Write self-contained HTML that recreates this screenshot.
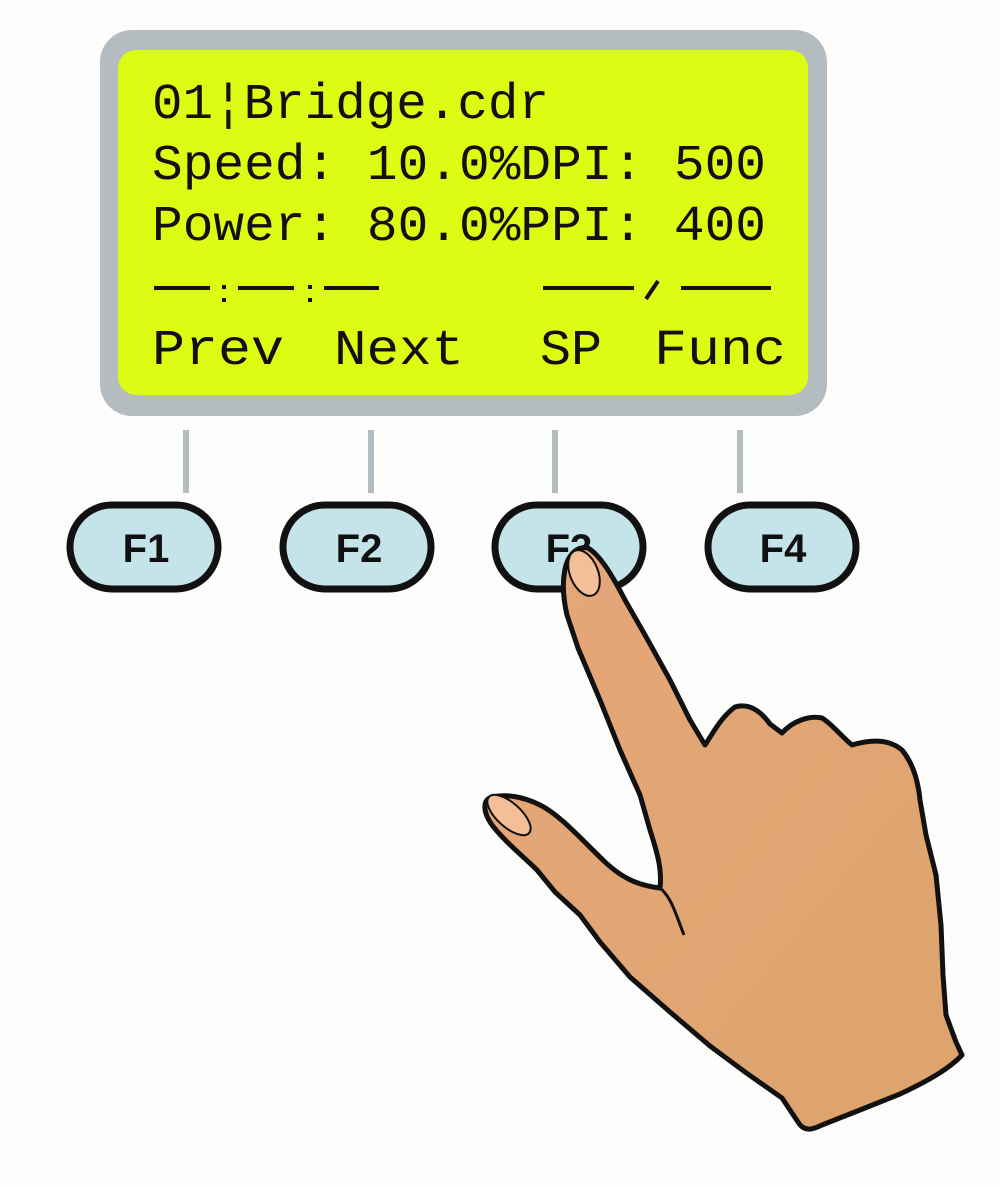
<!DOCTYPE html>
<html><head><meta charset="utf-8"><style>
html,body{margin:0;padding:0;background:#fdfdfb;}
svg{display:block}
.t{font-family:"Liberation Mono",monospace;font-size:50px;fill:#111;}
.b{font-family:"Liberation Sans",sans-serif;font-weight:bold;font-size:40px;fill:#111;text-anchor:middle;}
</style></head><body>
<svg width="1000" height="1185" viewBox="0 0 1000 1185" xmlns="http://www.w3.org/2000/svg">
<rect x="0" y="0" width="1000" height="1185" fill="#fdfdfb"/>
<rect x="100" y="30" width="727" height="386" rx="32" fill="#b5bcbf"/>
<rect x="118" y="50" width="690" height="345" rx="18" fill="#dcfc14"/>
<text class="t" x="152" y="118" textLength="397" lengthAdjust="spacingAndGlyphs">01¦Bridge.cdr</text>
<text class="t" x="152" y="179" textLength="614" lengthAdjust="spacingAndGlyphs">Speed: 10.0%DPI: 500</text>
<text class="t" x="152" y="240" textLength="614" lengthAdjust="spacingAndGlyphs">Power: 80.0%PPI: 400</text>
<g stroke="#111" stroke-width="4">
<line x1="154" y1="288" x2="210" y2="288"/><line x1="238" y1="288" x2="294" y2="288"/><line x1="324" y1="288" x2="379" y2="288"/>
<line x1="543" y1="288" x2="634" y2="288"/><line x1="681" y1="288" x2="771" y2="288"/>
<line x1="646" y1="299" x2="658" y2="281"/>
</g>
<rect x="222" y="285" width="4" height="4" fill="#111"/><rect x="222" y="298" width="4" height="4" fill="#111"/>
<rect x="308" y="285" width="4" height="4" fill="#111"/><rect x="308" y="298" width="4" height="4" fill="#111"/>
<text class="t" x="152" y="364" textLength="132" lengthAdjust="spacingAndGlyphs">Prev</text>
<text class="t" x="334" y="364" textLength="130" lengthAdjust="spacingAndGlyphs">Next</text>
<text class="t" x="540" y="364" textLength="62" lengthAdjust="spacingAndGlyphs">SP</text>
<text class="t" x="654" y="364" textLength="132" lengthAdjust="spacingAndGlyphs">Func</text>
<g stroke="#b5bcbf" stroke-width="6">
<line x1="186" y1="430" x2="186" y2="493"/><line x1="371" y1="430" x2="371" y2="493"/>
<line x1="555" y1="430" x2="555" y2="493"/><line x1="740" y1="430" x2="740" y2="493"/>
</g>
<g fill="#c5e4ea" stroke="#111" stroke-width="7">
<rect x="70" y="505" width="148" height="84" rx="42"/>
<rect x="283" y="505" width="148" height="84" rx="42"/>
<rect x="495" y="505" width="148" height="84" rx="42"/>
<rect x="708" y="505" width="148" height="84" rx="42"/>
</g>
<text class="b" x="146" y="562">F1</text>
<text class="b" x="359" y="562">F2</text>
<text class="b" x="569" y="562">F3</text>
<text class="b" x="783" y="562">F4</text>
<defs><linearGradient id="sk" x1="0" y1="0" x2="1" y2="1"><stop offset="0" stop-color="#e6a77a"/><stop offset="1" stop-color="#dca46c"/></linearGradient></defs>
<path fill="url(#sk)" stroke="#111" stroke-width="5" stroke-linejoin="round" d="
M588,548 C600,555 612,575 625,600 L645,635 L670,680 L690,720 L705,745
C712,735 720,718 735,707 C748,703 760,710 770,724 L782,733 C792,722 808,715 822,718 C832,724 840,735 852,745
C868,740 888,738 902,750 C912,762 918,780 920,800 L926,835 L936,875 L941,925 L943,975 L946,1015 L956,1042 L962,1055
C950,1068 930,1080 900,1094 L860,1110 L822,1125 C812,1130 804,1132 798,1122 L782,1098 L745,1072 L710,1046 L670,1012 L630,977 L600,942 L580,915 L555,892 L537,870 C525,858 505,842 492,825 C483,812 482,800 492,797 C505,794 522,796 540,805 C560,815 580,838 605,862 C620,876 635,885 660,888
C662,870 658,855 650,830 L640,795 L620,750 L600,700 L578,648 L567,615 C563,598 562,580 566,565 C570,553 578,546 588,548 Z"/>
<path d="M660,888 C672,898 676,915 684,935" fill="none" stroke="#111" stroke-width="3"/>
<ellipse cx="584" cy="573" rx="14" ry="24" transform="rotate(-22 584 573)" fill="#f4bf98" stroke="#111" stroke-width="2"/>
<ellipse cx="509" cy="815" rx="27" ry="12" transform="rotate(42 509 815)" fill="#f4bf98" stroke="#111" stroke-width="2"/>
</svg>
</body></html>
